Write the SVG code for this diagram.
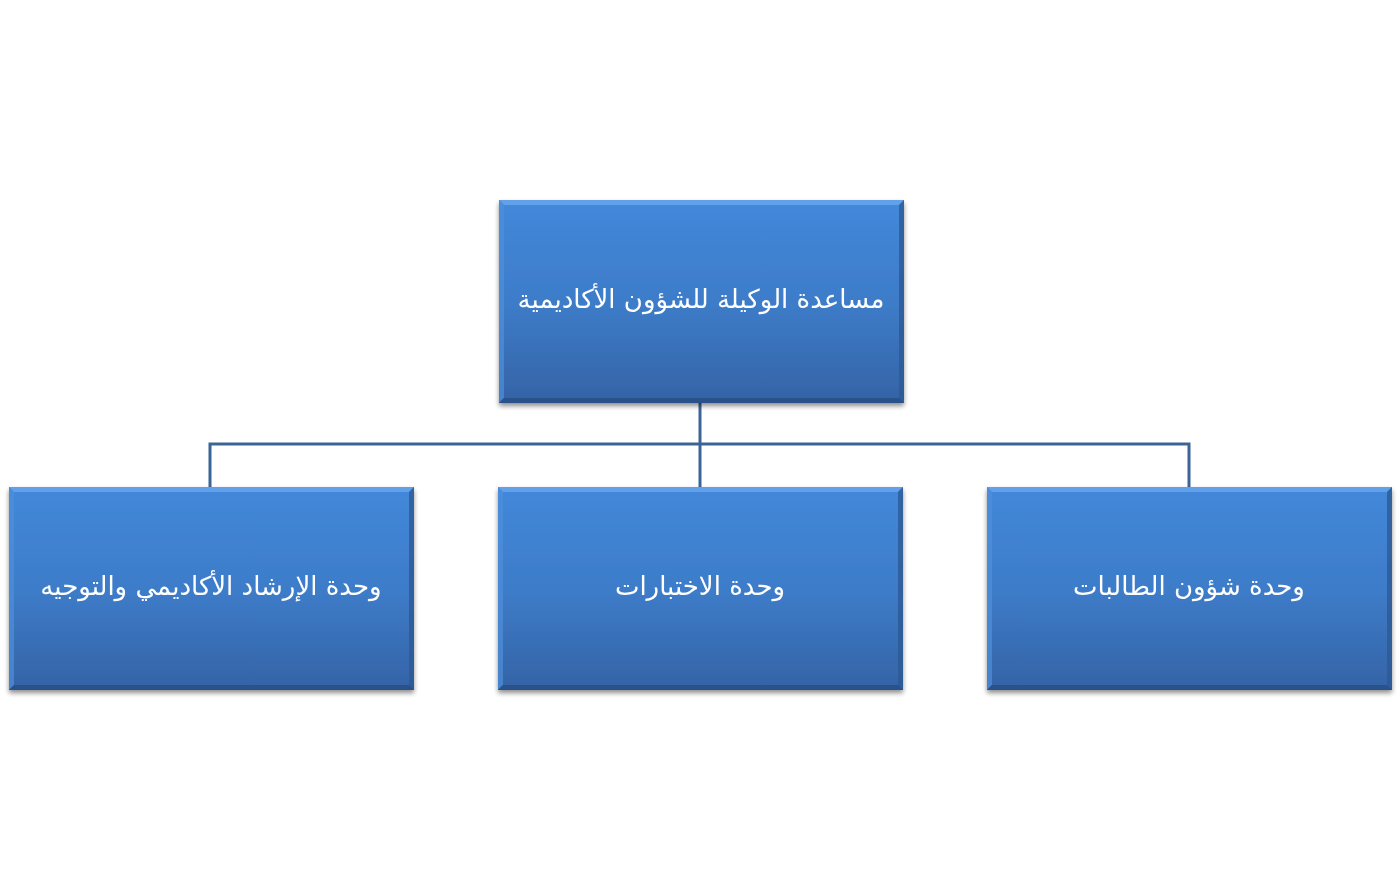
<svg xmlns="http://www.w3.org/2000/svg" width="1400" height="889" viewBox="0 0 1400 889">
<defs>
<linearGradient id="g" x1="0" y1="0" x2="0" y2="1">
<stop offset="0" stop-color="#4388da"/>
<stop offset="0.5" stop-color="#3d7cc9"/>
<stop offset="1" stop-color="#3563a6"/>
</linearGradient>
<filter id="sh" x="-5%" y="-5%" width="110%" height="115%">
<feGaussianBlur in="SourceAlpha" stdDeviation="2.5"/>
<feOffset dx="0" dy="3"/>
<feComponentTransfer><feFuncA type="linear" slope="0.45"/></feComponentTransfer>
<feMerge><feMergeNode/><feMergeNode in="SourceGraphic"/></feMerge>
</filter>
<g id="box">
<rect x="0" y="0" width="405" height="203" fill="url(#g)"/>
<polygon points="0,0 405,0 400,5 5,5" fill="#6aa8ee" opacity="0.8"/>
<polygon points="0,0 5,5 5,198 0,203" fill="#4f90dc" opacity="0.7"/>
<polygon points="405,0 405,203 400,198 400,5" fill="#2d5a94" opacity="0.8"/>
<polygon points="0,203 405,203 400,198 5,198" fill="#284f86" opacity="0.9"/>
</g>
</defs>
<style>
.t{font-family:"DejaVu Sans","Noto Sans",sans-serif;font-size:26px;fill:#ffffff;text-anchor:middle;}
.c{fill:none;stroke:#3c6597;stroke-width:3;}
</style>
<rect width="1400" height="889" fill="#ffffff"/>
<g id="connectors">
<path class="c" d="M700,403 V444"/>
<path class="c" d="M210,487 V444 H1189 V487"/>
<path class="c" d="M700,444 V487"/>
</g>
<g id="n0" filter="url(#sh)">
<use href="#box" x="499" y="200"/>
<text class="t" x="701" y="308" direction="rtl">مساعدة الوكيلة للشؤون الأكاديمية</text>
</g>
<g id="n1" filter="url(#sh)">
<use href="#box" x="9" y="487"/>
<text class="t" x="211" y="595" direction="rtl">وحدة الإرشاد الأكاديمي والتوجيه</text>
</g>
<g id="n2" filter="url(#sh)">
<use href="#box" x="498" y="487"/>
<text class="t" x="700" y="595" direction="rtl">وحدة الاختبارات</text>
</g>
<g id="n3" filter="url(#sh)">
<use href="#box" x="987" y="487"/>
<text class="t" x="1189" y="595" direction="rtl">وحدة شؤون الطالبات</text>
</g>
</svg>
